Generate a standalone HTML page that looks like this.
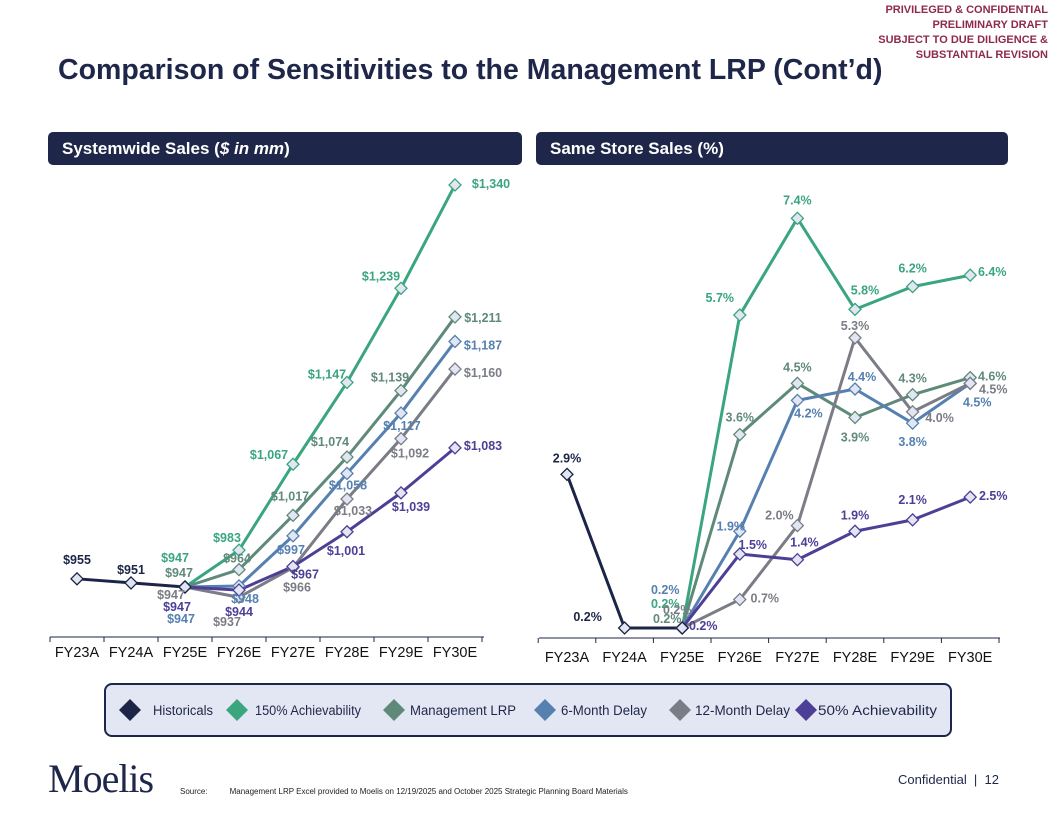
<!DOCTYPE html>
<html><head><meta charset="utf-8">
<style>
body{margin:0;width:1056px;height:816px;background:#fff;position:relative;overflow:hidden;font-family:"Liberation Sans",Arial,sans-serif}
.abs{position:absolute}
.conf{right:8px;top:3px;text-align:right;color:#8e2a4a;font-weight:bold;font-size:11px;line-height:15px}
.title{left:58px;top:54px;font-size:28.5px;font-weight:bold;color:#1e2749}
.hdr{top:132px;height:33px;background:#1e2749;border-radius:5px;color:#fff;font-weight:bold;font-size:17px;line-height:34px;padding-left:14px;box-sizing:border-box}
</style></head><body>
<div class="abs conf">PRIVILEGED &amp; CONFIDENTIAL<br>PRELIMINARY DRAFT<br>SUBJECT TO DUE DILIGENCE &amp;<br>SUBSTANTIAL REVISION</div>
<div class="abs title">Comparison of Sensitivities to the Management LRP (Cont’d)</div>
<div class="abs hdr" style="left:48px;width:474px">Systemwide Sales (<i>$ in mm</i>)</div>
<div class="abs hdr" style="left:536px;width:472px">Same Store Sales (%)</div>
<div class="abs" style="left:104px;top:683px;width:848px;height:54px;background:#e3e7f3;border:2px solid #1e2749;border-radius:8px;box-sizing:border-box"></div>
<svg class="abs" style="left:0;top:0" width="1056" height="816" id="charts"></svg>
<div class="abs" style="left:48px;top:755px;font-family:'Liberation Serif',serif;font-size:40px;color:#1e2749;letter-spacing:-1px">Moelis</div>
<div class="abs" style="left:180px;top:787px;font-size:8px;color:#222">Source:<span style="margin-left:22px">Management LRP Excel provided to Moelis on 12/19/2025 and October 2025 Strategic Planning Board Materials</span></div>
<div class="abs" style="right:57px;top:772px;font-size:13px;color:#1e2749">Confidential &nbsp;|&nbsp; 12</div>
<script>
const categories=["FY23A","FY24A","FY25E","FY26E","FY27E","FY28E","FY29E","FY30E"];
const seriesNames=["Historicals","150% Achievability","Management LRP","6-Month Delay","12-Month Delay","50% Achievability"];
const colors=["#1c2447","#3aa57f","#5f8a7a","#5580b0","#7a7d85","#4e3f96"];
// Systemwide sales ($mm)
const salesHist=[955,951,947,null,null,null,null,null];
const sales150=[null,null,947,983,1067,1147,1239,1340];
const salesMgmt=[null,null,947,964,1017,1074,1139,1211];
const sales6m=[null,null,947,948,997,1058,1117,1187];
const sales12m=[null,null,947,937,966,1033,1092,1160];
const sales50=[null,null,947,944,967,1001,1039,1083];
// Same store sales (%)
const sssHist=[2.9,0.2,0.2,null,null,null,null,null];
const sss150=[null,null,0.2,5.7,7.4,5.8,6.2,6.4];
const sssMgmt=[null,null,0.2,3.6,4.5,3.9,4.3,4.6];
const sss6m=[null,null,0.2,1.9,4.2,4.4,3.8,4.5];
const sss12m=[null,null,0.2,0.7,2.0,5.3,4.0,4.5];
const sss50=[null,null,0.2,1.5,1.4,1.9,2.1,2.5];
</script>
<script>
const svg=document.getElementById('charts');
const NS='http://www.w3.org/2000/svg';
function mk(tag,attrs){const e=document.createElementNS(NS,tag);for(const k in attrs)e.setAttribute(k,attrs[k]);svg.appendChild(e);return e;}
const offL=[
 [[0,-19],[0,-13],null],
 [null,null,[-10,-29],[-12,-12],[-24,-9],[-20,-8],[-20,-12],[36,-1]],
 [null,null,[-6,-14],[-2,-11],[-3,-19],[-17,-15],[-11,-13],[28,1]],
 [null,null,[-4,32],[6,13],[-2,14],[1,12],[1,13],[28,4]],
 [null,null,[-14,8],[-12,25],[4,20],[6,12],[9,15],[28,4]],
 [null,null,[-8,20],[0,22],[12,8],[-1,19],[10,14],[28,-2]]];
const offR=[
 [[0,-16],[-37,-11],null],
 [null,null,[-17,-24],[-20,-17],[0,-18],[10,-19],[0,-18],[22,-3]],
 [null,null,[-15,-9],[0,-17],[0,-16],[0,20],[0,-16],[22,-1]],
 [null,null,[-17,-38],[-9,-5],[11,13],[7,-12],[0,19],[7,19]],
 [null,null,[-5,-18],[25,-1],[-18,-10],[0,-12],[27,6],[23,6]],
 [null,null,[21,-2],[13,-9],[7,-17],[0,-16],[0,-20],[23,-1]]];
function chart(cfg){
  const {x0,step,yf,series,offs,fmt,axisY,axL,axR,labY,prefix}=cfg;
  const xf=i=>x0+i*step;
  const ax=mk('line',{x1:axL,x2:axR,y1:axisY,y2:axisY,stroke:'#1e2749','stroke-width':1});
  
  for(let i=0;i<=categories.length;i++){const tx=xf(i)-step/2;const t=mk('line',{x1:tx,x2:tx,y1:axisY,y2:axisY+5,stroke:'#1e2749'});
    }
  categories.forEach((c,i)=>{const t=mk('text',{x:xf(i),y:labY,'text-anchor':'middle','font-size':'14.5','fill':'#111'});t.textContent=c;
    });
  const order=[1,2,3,4,5,0];
  order.forEach(s=>{const d=series[s];let pts=[];d.forEach((v,i)=>{if(v!=null)pts.push(xf(i)+','+yf(v));});
    const p=mk('polyline',{points:pts.join(' '),fill:'none',stroke:colors[s],'stroke-width':3,'stroke-linejoin':'round'});
    });
  order.forEach(s=>{series[s].forEach((v,i)=>{if(v==null)return;const x=xf(i),y=yf(v);
    const m=mk('path',{d:`M${x},${y-6}L${x+6},${y}L${x},${y+6}L${x-6},${y}Z`,fill:'#e2e6f2',stroke:colors[s],'stroke-width':1.3});
    });});
  order.forEach(s=>{series[s].forEach((v,i)=>{const o=offs[s][i];if(v==null||!o)return;
    const t=mk('text',{x:xf(i)+o[0],y:yf(v)+o[1]+4,'text-anchor':'middle','font-size':'12.5','font-weight':'bold',fill:colors[s]});
    t.textContent=fmt(v);});});
}
chart({prefix:'sales',x0:77,step:54,yf:v=>587-(v-947)*1.023,series:[salesHist,sales150,salesMgmt,sales6m,sales12m,sales50],offs:offL,
  fmt:v=>'$'+v.toLocaleString('en-US'),axisY:637,axL:50,axR:484,labY:657});
chart({prefix:'sss',x0:567,step:57.6,yf:v=>628-(v-0.2)*56.9,series:[sssHist,sss150,sssMgmt,sss6m,sss12m,sss50],offs:offR,
  fmt:v=>v.toFixed(1)+'%',axisY:638,axL:539,axR:1000,labY:662});
const legX=[130,237,394,545,680,806];
const legTX=[153,255,410,561,695,818];
const legTW=[60,106,106,86,95,119];
seriesNames.forEach((n,i)=>{const x=legX[i],y=710;
  const d=mk('path',{d:`M${x},${y-11}L${x+11},${y}L${x},${y+11}L${x-11},${y}Z`,fill:colors[i]});
  
  const t=mk('text',{x:legTX[i],y:y+5,'font-size':'13.5',fill:'#1e2749',textLength:legTW[i],lengthAdjust:'spacingAndGlyphs'});t.textContent=n;
  });
</script>
</body></html>
